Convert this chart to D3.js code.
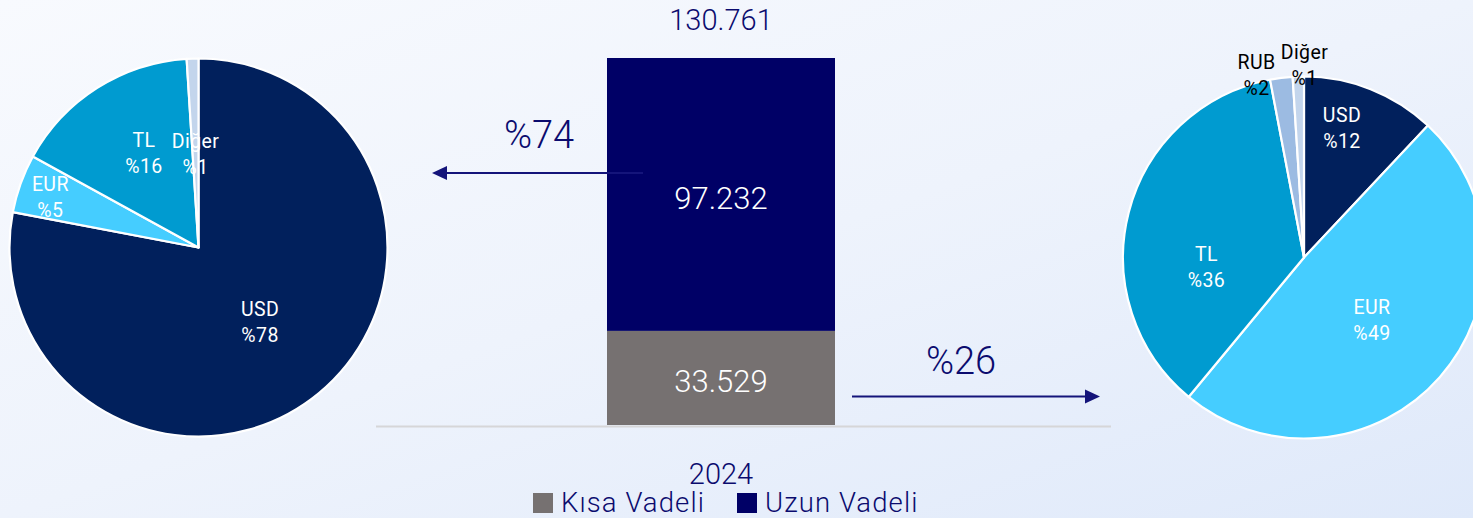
<!DOCTYPE html>
<html><head><meta charset="utf-8">
<script src="https://cdn.jsdelivr.net/npm/d3@7"></script>
<style>html,body{margin:0;padding:0;overflow:hidden;background:#eef3fc}</style>
</head><body>
<svg id="chart" width="1473" height="518"></svg>
<script>
// ---------------- DATA ----------------
const years = ["2024"];
const seriesNames = ["Kısa Vadeli", "Uzun Vadeli"];
const shortTerm = [33529];   // Kısa Vadeli
const longTerm = [97232];    // Uzun Vadeli

const leftPieCategories = ["USD", "EUR", "TL", "Diğer"];
const leftPieValues = [78, 5, 16, 1];            // Uzun vadeli döviz dağılımı (%)

const rightPieCategories = ["USD", "EUR", "TL", "RUB", "Diğer"];
const rightPieValues = [12, 49, 36, 2, 1];       // Kısa vadeli döviz dağılımı (%)

// ---------------- STYLE / LAYOUT ----------------
const W = 1473, H = 518;
const FONT = "Roboto, 'Noto Sans', sans-serif";
const navyText = "#0b0b6e";
const seriesColors = ["#767171", "#000066"];
const leftPieColors = ["#01205c", "#45cdff", "#009bd0", "#c3d5ec"];
const rightPieColors = ["#01205c", "#45cdff", "#009bd0", "#9cbbe2", "#c3d5ec"];
const leftLabelColors = ["#fff", "#fff", "#fff", "#fff"];
const rightLabelColors = ["#fff", "#fff", "#fff", "#000", "#000"];
// label placement: [radius as fraction of R, angle offset in degrees from slice mid-angle]
const leftLabelPolar = [[0.511, 0], [0.828, -1], [0.575, 2.3], [0.497, 0]];
const rightLabelPolar = [[0.743, -5.2], [0.508, 1], [0.541, -19.7], [1.044, -7.35], [1.061, 1.95]];

const svg = d3.select("#chart");
const fmt = d3.formatLocale({decimal: ",", thousands: ".", grouping: [3], currency: ["", " TL"]}).format(",d");

// background gradient
const defs = svg.append("defs");
const grad = defs.append("linearGradient").attr("id", "bg")
  .attr("x1", "0%").attr("y1", "0%").attr("x2", "100%").attr("y2", "100%");
grad.append("stop").attr("offset", "0%").attr("stop-color", "#f8fafe");
grad.append("stop").attr("offset", "50%").attr("stop-color", "#eef3fc");
grad.append("stop").attr("offset", "100%").attr("stop-color", "#dfe9fa");
svg.append("rect").attr("width", W).attr("height", H).attr("fill", "url(#bg)");

// ---------------- PIES ----------------
function drawPie(cx, cy, R, cats, vals, colors, labelColors, polar) {
  const g = svg.append("g").attr("transform", `translate(${cx},${cy})`);
  const pie = d3.pie().sort(null).value(d => d.v);
  const arcs = pie(cats.map((c, i) => ({c, v: vals[i], i})));
  const arc = d3.arc().innerRadius(0).outerRadius(R);
  g.selectAll("path").data(arcs).join("path")
    .attr("d", arc)
    .attr("fill", d => colors[d.data.i])
    .attr("stroke", "#ffffff").attr("stroke-width", 2.2).attr("stroke-linejoin", "round");
  const lab = g.selectAll("g.lab").data(arcs).join("g").attr("class", "lab")
    .attr("transform", d => {
      const p = polar[d.data.i];
      const a = (d.startAngle + d.endAngle) / 2 + p[1] * Math.PI / 180;
      const r = p[0] * R;
      return `translate(${r * Math.sin(a)},${-r * Math.cos(a)})`;
    });
  lab.append("text").attr("y", -6).text(d => d.data.c);
  lab.append("text").attr("y", 20).text(d => "%" + d.data.v);
  lab.selectAll("text")
    .attr("text-anchor", "middle")
    .attr("font-family", FONT).attr("font-size", 19.5).attr("font-weight", 400)
    .attr("letter-spacing", 0.4)
    .attr("fill", function() { return labelColors[d3.select(this.parentNode).datum().data.i]; });
}
drawPie(198.5, 247.5, 189, leftPieCategories, leftPieValues, leftPieColors, leftLabelColors, leftLabelPolar);
drawPie(1304, 257.5, 181, rightPieCategories, rightPieValues, rightPieColors, rightLabelColors, rightLabelPolar);

// ---------------- STACKED BAR ----------------
const totals = years.map((y, i) => shortTerm[i] + longTerm[i]);
const x = d3.scaleBand().domain(years).range([607, 835]).padding(0);
const y = d3.scaleLinear().domain([0, d3.max(totals)]).range([425, 58]);

const rows = years.map((yr, i) => ({year: yr, s: shortTerm[i], l: longTerm[i]}));
const stack = d3.stack().keys(["s", "l"])(rows);
const bars = svg.append("g");
stack.forEach((layer, k) => {
  bars.selectAll(null).data(layer).join("rect")
    .attr("x", d => x(d.data.year))
    .attr("width", x.bandwidth())
    .attr("y", d => y(d[1]))
    .attr("height", d => y(d[0]) - y(d[1]))
    .attr("fill", seriesColors[k]);
  bars.selectAll(null).data(layer).join("text")
    .attr("x", d => x(d.data.year) + x.bandwidth() / 2)
    .attr("y", d => (y(d[0]) + y(d[1])) / 2 + 14.5)
    .attr("text-anchor", "middle").attr("fill", "#ffffff")
    .attr("font-family", FONT).attr("font-size", 31).attr("font-weight", 300)
    .text(d => fmt(d[1] - d[0]));
});

// category axis line
svg.append("line").attr("x1", 376).attr("x2", 1111).attr("y1", 426.5).attr("y2", 426.5)
  .attr("stroke", "#d6d6d8").attr("stroke-width", 2);

// total label
svg.selectAll(null).data(rows).join("text")
  .attr("x", d => x(d.year) + x.bandwidth() / 2).attr("y", d => y(d.s + d.l) - 28)
  .attr("text-anchor", "middle").attr("fill", navyText)
  .attr("font-family", FONT).attr("font-size", 29).attr("font-weight", 300)
  .text(d => fmt(d.s + d.l));

// year label
svg.selectAll(null).data(years).join("text")
  .attr("x", d => x(d) + x.bandwidth() / 2).attr("y", 484)
  .attr("text-anchor", "middle").attr("fill", navyText)
  .attr("font-family", FONT).attr("font-size", 29).attr("font-weight", 300)
  .text(d => d);

// ---------------- ARROWS ----------------
const arrowColor = "#14147a";
function arrow(x1, x2, yy) {
  const dir = Math.sign(x2 - x1);
  svg.append("line").attr("x1", x1).attr("x2", x2 - dir * 12).attr("y1", yy).attr("y2", yy)
    .attr("stroke", arrowColor).attr("stroke-width", 2);
  svg.append("path")
    .attr("d", `M${x2},${yy} L${x2 - dir * 15},${yy - 7} L${x2 - dir * 15},${yy + 7} Z`)
    .attr("fill", arrowColor);
}
const pctLong = Math.round(longTerm[0] / totals[0] * 100);
const pctShort = Math.round(shortTerm[0] / totals[0] * 100);
arrow(643, 432, 173);
arrow(852, 1100, 396.5);
svg.append("text").attr("x", 539).attr("y", 148).attr("text-anchor", "middle")
  .attr("fill", navyText).attr("font-family", FONT).attr("font-size", 38).attr("font-weight", 300)
  .text("%" + pctLong);
svg.append("text").attr("x", 961).attr("y", 374).attr("text-anchor", "middle")
  .attr("fill", navyText).attr("font-family", FONT).attr("font-size", 38).attr("font-weight", 300)
  .text("%" + pctShort);

// ---------------- LEGEND ----------------
const legendX = [533, 737];
const leg = svg.selectAll("g.leg").data(seriesNames).join("g").attr("class", "leg")
  .attr("transform", (d, i) => `translate(${legendX[i]},0)`);
leg.append("rect").attr("x", 0).attr("y", 493).attr("width", 20).attr("height", 20)
  .attr("fill", (d, i) => seriesColors[i]);
leg.append("text").attr("x", 28).attr("y", 512)
  .attr("fill", navyText).attr("font-family", FONT).attr("font-size", 27.5).attr("font-weight", 300)
  .attr("letter-spacing", 1.1)
  .text(d => d);
</script>
</body></html>
